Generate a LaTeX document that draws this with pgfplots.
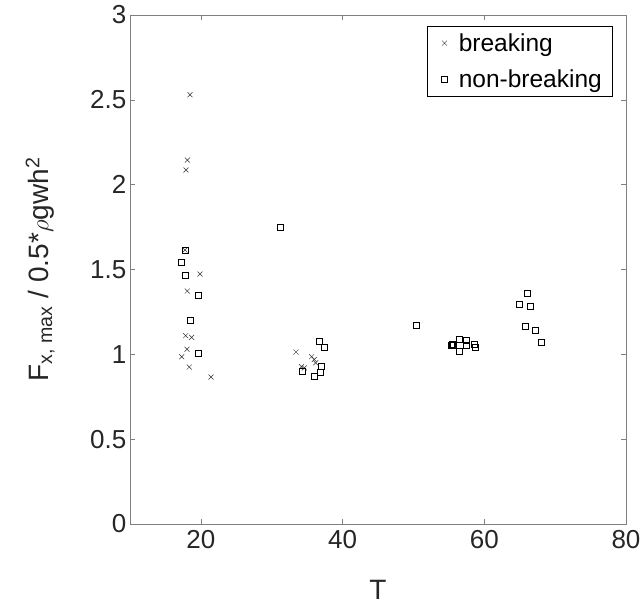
\documentclass[border=0pt]{standalone}
\usepackage{pgfplots}
\pgfplotsset{compat=1.18}
\usepackage{fontspec}
\setmainfont{Liberation Sans}
\definecolor{axgray}{gray}{0.5}
\definecolor{txt}{rgb}{0.15,0.15,0.15}
\begin{document}
\begin{tikzpicture}
\begin{axis}[
  scale only axis, width=496pt, height=509pt,
  xmin=10, xmax=80, ymin=0, ymax=3,
  xtick={20,40,60,80}, ytick={0,0.5,1,1.5,2,2.5,3},
  yticklabels={0,0.5,1,1.5,2,2.5,3},
  xticklabels={20,40,60,80},
  tick align=inside, major tick length=5pt,
  axis line style={axgray}, tick style={axgray, line width=0.6pt},
  every axis/.append style={line width=0.8pt},
  ticklabel style={font=\fontsize{26}{29}\selectfont, text=txt},
  xticklabel style={yshift=-3pt},
  xlabel={T},
  xlabel style={at={(axis description cs:0.5,-0.13)}, anchor=center},
  ylabel={F\textsubscript{x, max} / 0.5*$\rho$gwh\textsuperscript{2}},
  ylabel style={at={(axis description cs:-0.181,0.5)}, anchor=center, rotate=0},
  label style={font=\fontsize{28}{31}\selectfont, text=txt},
  legend image code/.code={\path (0pt,0pt) (21pt,0pt); \draw[#1, only marks] plot coordinates {(9pt,0pt)};},
  legend style={at={(0.972,0.978)}, anchor=north east, draw=black, line width=0.6pt,
    font=\fontsize{24.5}{27}\selectfont, cells={anchor=west}, row sep=13pt, inner xsep=8pt, inner ysep=5pt},
]
\coordinate (bl) at (rel axis cs:0,0);
\coordinate (tr) at (rel axis cs:1,1);
\addplot[only marks, mark=x, mark size=3.5pt, black!80, line width=0.5pt] coordinates {
(18.47,2.53) (18.1,2.145) (17.9,2.086) (17.76,1.615) (19.88,1.473) (18.09,1.373)
(17.86,1.11) (18.7,1.10) (18.04,1.03) (17.3,0.986) (18.37,0.925) (21.43,0.866)
(33.43,1.013) (35.64,0.986) (36.0,0.97) (36.2,0.95) (34.2,0.927) (34.6,0.92)
};
\addlegendentry{breaking}
\addplot[only marks, mark=square, mark size=3pt, black, line width=0.6pt] coordinates {
(17.76,1.615) (17.29,1.54) (17.76,1.467) (19.64,1.345) (18.56,1.198) (19.64,1.004)
(31.17,1.746) (36.72,1.077) (37.47,1.041) (34.3,0.90) (37.05,0.927) (36.8,0.896) (35.97,0.868)
(50.46,1.173) (55.35,1.055) (55.5,1.06) (55.6,1.052) (56.47,1.088) (57.5,1.084) (57.4,1.051)
(56.47,1.019) (58.55,1.057) (58.73,1.039)
(66.12,1.361) (64.99,1.292) (66.5,1.283) (65.74,1.167) (67.25,1.139) (68.1,1.072)
};
\addlegendentry{non-breaking}
\end{axis}
\path (bl) ++(-130pt,-82pt) coordinate (a);
\path (tr) ++(15pt,15pt) coordinate (b);
\pgfresetboundingbox
\path (a) rectangle (b);
\end{tikzpicture}
\end{document}
